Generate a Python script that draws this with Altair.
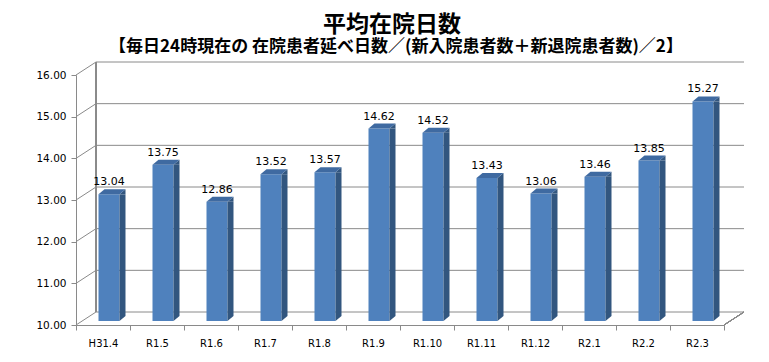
import altair as alt
import pandas as pd

# ---- data ----
categories = ["H31.4", "R1.5", "R1.6", "R1.7", "R1.8", "R1.9", "R1.10",
              "R1.11", "R1.12", "R2.1", "R2.2", "R2.3"]
values = [13.04, 13.75, 12.86, 13.52, 13.57, 14.62, 14.52,
          13.43, 13.06, 13.46, 13.85, 15.27]
y_ticks = [10, 11, 12, 13, 14, 15, 16]
title_text = "平均在院日数"
subtitle_text = "【毎日24時現在の 在院患者延べ日数／(新入院患者数＋新退院患者数)／2】"

# ---- layout / style ----
W, H = 648, 250
PAD_L, PAD_T = 68, 67
PAD_R, PAD_B = 753 - PAD_L - W, 346 - PAD_T - H
DX, DY = 20, 13      # wall depth
BX, BY = 6, 4        # bar position inside the depth
BW = 21              # bar front width
SX, SY = 6, 5        # bar depth
GRID = "#8a8a8a"
FRONT = "#4f81bd"
SIDE = "#32567f"
TOP = "#3f6aa1"

bars_df = pd.DataFrame({"cat": categories, "v": values})
grid_df = pd.DataFrame({"g": y_ticks})
title_df = pd.DataFrame({"t": [title_text]})
sub_df = pd.DataFrame({"t": [subtitle_text]})

xscale = alt.Scale(domain=categories, paddingInner=0, paddingOuter=0)
yscale = alt.Scale(domain=[10, 16], zero=False, nice=False)
xaxis = alt.Axis(title=None, labelAngle=0, tickBand="extent", tickSize=5,
                 labelPadding=8, domainColor=GRID, tickColor=GRID,
                 labelColor="black", labelFont="DejaVu Sans", labelFontSize=10,
                 grid=False)
yaxis = alt.Axis(title=None, values=y_ticks, format=".2f", tickSize=5,
                 labelPadding=5, domainColor=GRID, tickColor=GRID,
                 labelColor="black", labelFont="DejaVu Sans", labelFontSize=10.5,
                 grid=False)

X = alt.X("cat:N", scale=xscale, axis=xaxis)
Yv = alt.Y("v:Q", scale=yscale, axis=yaxis)
Yg = alt.Y("g:Q", scale=yscale, axis=yaxis)
Y10 = alt.Y(datum=10, scale=yscale, axis=yaxis)

# back wall gridlines
back_grid = alt.Chart(grid_df).mark_rule(color=GRID, strokeWidth=1, yOffset=-DY).encode(
    y=Yg, x=alt.value(DX), x2=alt.value(W + DX))
# side wall diagonals
side_grid = alt.Chart(grid_df).mark_rule(color=GRID, strokeWidth=1, y2Offset=-DY).encode(
    y=Yg, y2=alt.Y2("g:Q"), x=alt.value(0), x2=alt.value(DX))
# back-left vertical edge
back_edge = alt.Chart(grid_df).mark_rule(color=GRID, strokeWidth=1, yOffset=-DY, y2Offset=-DY).encode(
    y=alt.Y(datum=16, scale=yscale, axis=yaxis), y2=alt.datum(10), x=alt.value(DX))
# floor right diagonal
floor_edge = alt.Chart(grid_df).mark_rule(color=GRID, strokeWidth=1, y2Offset=-DY).encode(
    y=Y10, y2=alt.datum(10), x=alt.value(W), x2=alt.value(W + DX))

base = alt.Chart(bars_df)
front = base.mark_bar(size=BW, xOffset=BX, yOffset=-BY, y2Offset=-BY, color=FRONT).encode(
    x=X, y=Yv, y2=alt.datum(10))
side = base.mark_bar(size=SX, xOffset=BX + BW / 2 + SX / 2, yOffset=-BY,
                     y2Offset=-BY - SY, color=SIDE).encode(x=X, y=Yv, y2=alt.datum(10))
side_top = base.mark_point(shape=f"M0,0 L{SX},{-SY} L{SX},0 Z", size=4, filled=True,
                           color=SIDE, opacity=1, strokeWidth=0,
                           xOffset=BX + BW / 2, yOffset=-BY).encode(x=X, y=Yv)
side_bottom = base.mark_point(shape=f"M0,{-SY} L{SX},{-SY} L0,0 Z", size=4, filled=True,
                              color=SIDE, opacity=1, strokeWidth=0,
                              xOffset=BX + BW / 2, yOffset=-BY).encode(x=X, y=Y10)
top = base.mark_point(shape=f"M{-BW/2},0 L{BW/2},0 L{BW/2 + SX},{-SY} L{-BW/2 + SX},{-SY} Z",
                      size=4, filled=True, color=TOP, opacity=1, strokeWidth=0,
                      xOffset=BX, yOffset=-BY).encode(x=X, y=Yv)
labels = base.mark_text(dx=BX, dy=-(BY + SY + 4), baseline="alphabetic", align="center",
                        font="DejaVu Sans", fontSize=11, color="black").encode(
    x=X, y=Yv, text=alt.Text("v:Q", format=".2f"))

title = alt.Chart(title_df).mark_text(font="Noto Sans CJK JP", fontSize=23, fontWeight="bold",
                                      align="center", baseline="middle", color="black").encode(
    x=alt.value(392 - 8 - PAD_L), y=alt.value(25 - 8 - PAD_T), text="t:N")
subtitle = alt.Chart(sub_df).mark_text(font="Noto Sans CJK JP", fontSize=17, fontWeight="bold",
                                       align="center", baseline="middle", color="black").encode(
    x=alt.value(396 - 8 - PAD_L), y=alt.value(47 - 8 - PAD_T), text="t:N")

chart = alt.layer(back_grid, side_grid, back_edge, floor_edge,
                  front, side, side_top, side_bottom, top, labels,
                  title, subtitle).properties(
    width=W, height=H,
    padding={"left": PAD_L, "top": PAD_T, "right": PAD_R, "bottom": PAD_B},
    autosize=alt.AutoSizeParams(type="none"),
    background="white",
).configure_view(stroke=None)

chart.save("out.html", embed_options={"renderer": "svg", "actions": False})
